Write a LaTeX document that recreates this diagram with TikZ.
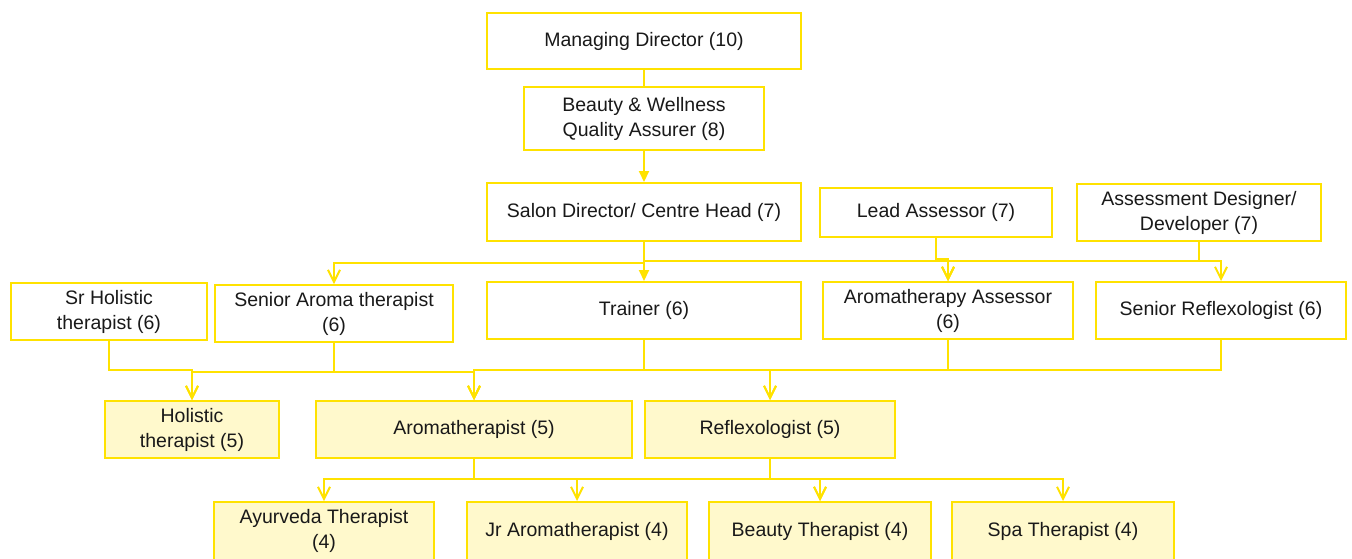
\documentclass[tikz,border=0pt]{standalone}
\usepackage{fontspec}
\setmainfont{Liberation Sans}
\usetikzlibrary{arrows.meta}
\definecolor{lineyel}{RGB}{255,226,0}
\definecolor{fillyel}{RGB}{255,249,204}
\definecolor{txt}{RGB}{25,25,25}
\tikzset{
  box/.style={draw=lineyel, line width=2pt, fill=white, align=center, text=txt,
    inner sep=2pt, font=\fontsize{19.5}{25}\selectfont},
  lowbox/.style={box, fill=fillyel},
  conn/.style={draw=lineyel, line width=2pt, -{Straight Barb[length=12pt,width=12pt]}},
  connf/.style={draw=lineyel, line width=2pt, -{Triangle[length=11pt,width=10pt]}},
  plain/.style={draw=lineyel, line width=2pt}
}
\begin{document}
\begin{tikzpicture}[x=1pt,y=-1pt]
\clip (0,0) rectangle (1352,558);
\fill[white] (0,0) rectangle (1352,558);
% nodes
\node[box, minimum width=314pt, minimum height=56pt] (md) at (644,41) {Managing Director (10)};
\node[box, minimum width=240pt, minimum height=63pt] (bw) at (644,118.5) {Beauty \& Wellness\\Quality Assurer (8)};
\node[box, minimum width=314pt, minimum height=58pt] (sd) at (644,212) {Salon Director/ Centre Head (7)};
\node[box, minimum width=232pt, minimum height=49pt] (la) at (936,212.5) {Lead Assessor (7)};
\node[box, minimum width=244pt, minimum height=57pt] (ad) at (1199,212.5) {Assessment Designer/\\Developer (7)};
\node[box, minimum width=196pt, minimum height=57pt] (sh) at (109,311.5) {Sr Holistic\\therapist (6)};
\node[box, minimum width=238pt, minimum height=57pt] (sa) at (334,313.5) {Senior Aroma therapist\\(6)};
\node[box, minimum width=314pt, minimum height=57pt] (tr) at (644,310.5) {Trainer (6)};
\node[box, minimum width=250pt, minimum height=57pt] (aa) at (948,310.5) {Aromatherapy Assessor\\(6)};
\node[box, minimum width=250pt, minimum height=57pt] (sr) at (1221,310.5) {Senior Reflexologist (6)};
\node[lowbox, minimum width=174pt, minimum height=57pt] (ht) at (192,429.5) {Holistic\\therapist (5)};
\node[lowbox, minimum width=316pt, minimum height=57pt] (at) at (474,429.5) {Aromatherapist (5)};
\node[lowbox, minimum width=250pt, minimum height=57pt] (rf) at (770,429.5) {Reflexologist (5)};
\node[lowbox, minimum width=220pt, minimum height=58pt] (ay) at (324,531) {Ayurveda Therapist\\(4)};
\node[lowbox, minimum width=220pt, minimum height=58pt] (jr) at (577,531) {Jr Aromatherapist (4)};
\node[lowbox, minimum width=222pt, minimum height=58pt] (bt) at (820,531) {Beauty Therapist (4)};
\node[lowbox, minimum width=222pt, minimum height=58pt] (sp) at (1063,531) {Spa Therapist (4)};
% level 10 -> 8 -> 7
\draw[plain] (md.south) -- (bw.north);
\draw[connf] (bw.south) -- (sd.north);
% level 7 -> 6
\draw[conn] (sd.south) -- (sd.south |- 0,263) -| (sa.north);
\draw[connf] (sd.south) -- (tr.north);
\draw[conn] (sd.south) -- (sd.south |- 0,261) -| (aa.north);
\draw[conn] (la.south) -- (la.south |- 0,259) -| (aa.north);
\draw[conn] (ad.south) -- (ad.south |- 0,261) -| (aa.north);
\draw[conn] (ad.south) -- (ad.south |- 0,261) -| (sr.north);
% level 6 -> 5
\draw[conn] (sh.south) -- (sh.south |- 0,370) -| (ht.north);
\draw[conn] (sa.south) -- (sa.south |- 0,372) -| (ht.north);
\draw[conn] (sa.south) -- (sa.south |- 0,372) -| (at.north);
\draw[conn] (tr.south) -- (tr.south |- 0,370) -| (at.north);
\draw[conn] (tr.south) -- (tr.south |- 0,370) -| (rf.north);
\draw[conn] (aa.south) -- (aa.south |- 0,370) -| (at.north);
\draw[conn] (sr.south) -- (sr.south |- 0,370) -| (rf.north);
% level 5 -> 4
\draw[conn] (at.south) -- (at.south |- 0,479) -| (ay.north);
\draw[conn] (at.south) -- (at.south |- 0,479) -| (jr.north);
\draw[conn] (at.south) -- (at.south |- 0,479) -| (bt.north);
\draw[conn] (rf.south) -- (rf.south |- 0,479) -| (bt.north);
\draw[conn] (rf.south) -- (rf.south |- 0,479) -| (sp.north);
\end{tikzpicture}
\end{document}
